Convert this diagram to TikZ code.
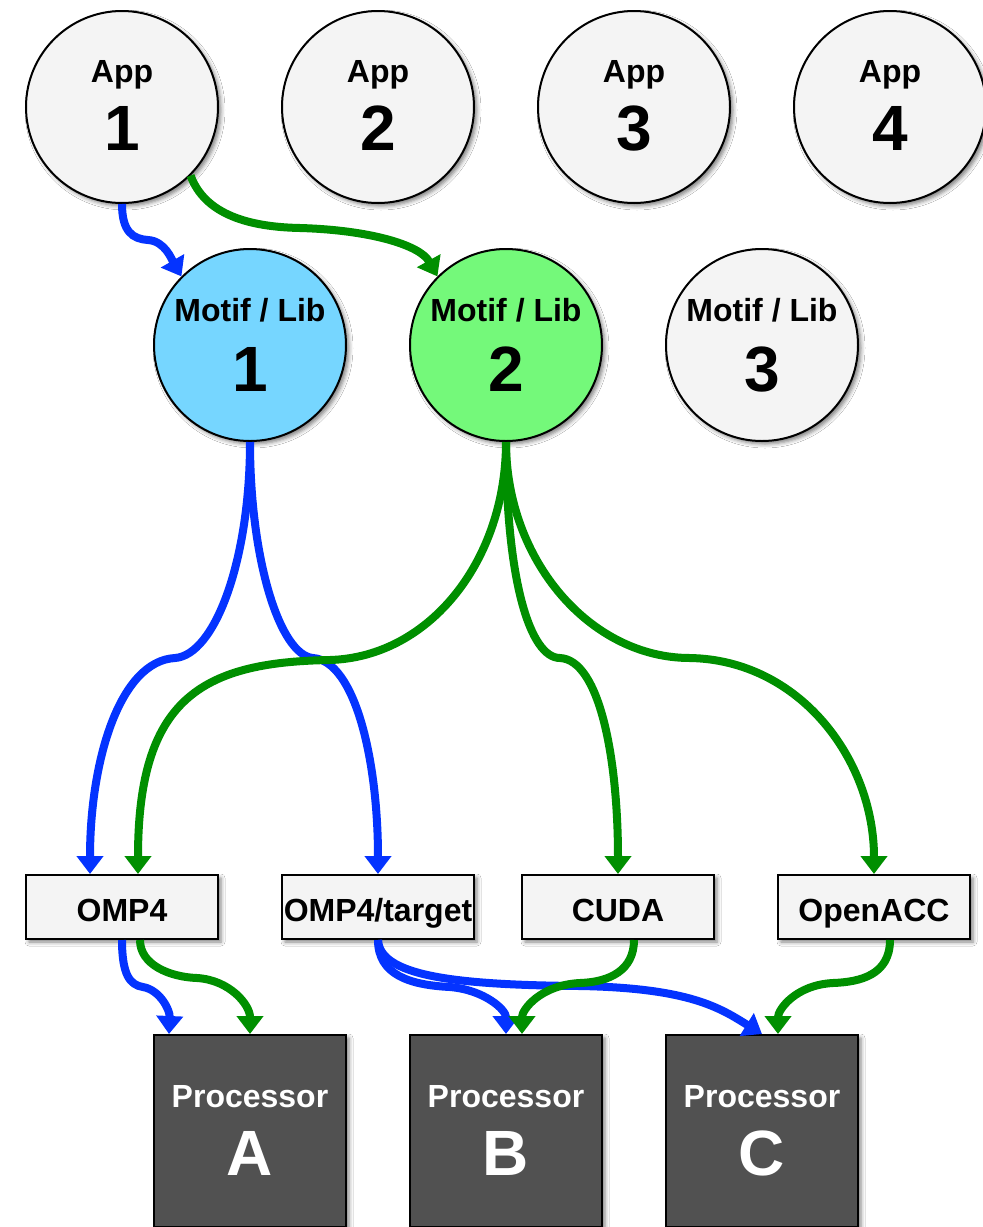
\documentclass[tikz,border=0pt]{standalone}
\usepackage{fontspec}
\setmainfont{Liberation Sans}
\usetikzlibrary{arrows.meta,shadows.blur,calc}
\definecolor{shapefill}{HTML}{F4F4F4}
\definecolor{skyfill}{HTML}{76D6FF}
\definecolor{florafill}{HTML}{74F97A}
\definecolor{procfill}{HTML}{515151}
\definecolor{linkblue}{HTML}{0433FF}
\definecolor{linkgreen}{HTML}{008F00}

\begin{document}
\begin{tikzpicture}[x=1pt,y=-1pt,
  softshadow/.style={blur shadow={shadow xshift=3pt,shadow yshift=-3pt,shadow blur radius=4pt,shadow opacity=50}},
  ring/.style={circle,draw=black,line width=2pt,minimum size=192pt,inner sep=0pt,fill=shapefill,softshadow},
  tag/.style={rectangle,draw=black,line width=2pt,minimum width=192pt,minimum height=64pt,inner sep=0pt,fill=shapefill,softshadow},
  chip/.style={rectangle,draw=black,line width=2pt,minimum width=192pt,minimum height=192pt,inner sep=0pt,fill=procfill,softshadow},
  capt/.style={font=\fontsize{32}{36}\selectfont\bfseries,anchor=base,inner sep=0pt},
  bignum/.style={font=\fontsize{64}{70}\selectfont\bfseries,anchor=base,inner sep=0pt},
  blueflow/.style={draw=linkblue,line width=8pt,-{Triangle[width=26pt,length=18pt]}},
  greenflow/.style={draw=linkgreen,line width=8pt,-{Triangle[width=26pt,length=18pt]}},
]
\fill[white] (0,0) rectangle (983,1227);
\useasboundingbox (0,0) rectangle (983,1227);

% applications
\foreach \i/\x in {1/122,2/378,3/634,4/890} {
  \node[ring] (app\i) at (\x,107) {};
  \node[capt] (app\i-word) at (\x,82) {App};
  \node[bignum] (app\i-num) at (\x,150) {\i};
}

% motifs / libraries
\foreach \i/\x/\c in {1/250/skyfill,2/506/florafill,3/762/shapefill} {
  \node[ring,fill=\c] (m\i) at (\x,345) {};
  \node[capt] (m\i-word) at (\x,321) {Motif / Lib};
  \node[bignum] (m\i-num) at (\x,391) {\i};
}

% programming models
\node[tag] (omp4) at (122,907) {};
\node[capt] (omp4-word) at (122,921) {OMP4};
\node[tag] (ompt) at (378,907) {};
\node[capt] (ompt-word) at (378,921) {OMP4/target};
\node[tag] (cuda) at (618,907) {};
\node[capt] (cuda-word) at (618,921) {CUDA};
\node[tag] (oacc) at (874,907) {};
\node[capt] (oacc-word) at (874,921) {OpenACC};

% processors
\foreach \i/\n/\x in {a/A/250,b/B/506,c/C/762} {
  \node[chip] (p\i) at (\x,1131) {};
  \node[capt,text=white] (p\i-word) at (\x,1107) {Processor};
  \node[bignum,text=white] (p\i-num) at (\x,1175) {\n};
}

% app 1 to motifs
\draw[blueflow] (app1.south) .. controls (122,232) and (133,239) .. (148,240)
  .. controls (165,241) and (172,260) .. (m1.135);
\draw[greenflow] (app1.-45) .. controls (205,215) and (250,227) .. (300,228)
  .. controls (370,230) and (420,245) .. (m2.135);

% motifs to programming models
\draw[blueflow] (m1.south) .. controls (250,560) and (215,655) .. (175,658)
  .. controls (120,661) and (90,760) .. ($(omp4.north)+(-32,0)$);
\draw[blueflow] (m1.south) .. controls (250,560) and (280,655) .. (313,658)
  .. controls (355,661) and (378,760) .. (ompt.north);
\draw[greenflow] (m2.south) .. controls (506,560) and (430,657) .. (330,660)
  .. controls (200,662) and (138,700) .. ($(omp4.north)+(16,0)$);
\draw[greenflow] (m2.south) .. controls (506,580) and (530,658) .. (560,658)
  .. controls (600,660) and (618,760) .. (cuda.north);
\draw[greenflow] (m2.south) .. controls (506,560) and (590,658) .. (690,658)
  .. controls (800,660) and (874,760) .. (oacc.north);

% programming models to processors
\draw[blueflow] (omp4.south) .. controls (122,975) and (130,985) .. (143,987)
  .. controls (160,990) and (170,1010) .. ($(pa.north west)+(16,0)$);
\draw[greenflow] ($(omp4.south)+(18,0)$) .. controls (140,965) and (170,977) .. (197,978)
  .. controls (230,980) and (250,1005) .. (pa.north);
\draw[blueflow] (ompt.south) .. controls (378,975) and (410,985) .. (450,987)
  .. controls (485,990) and (506,1010) .. (pb.north);
\draw[blueflow] (ompt.south) .. controls (380,975) and (450,985) .. (580,986)
  .. controls (690,988) and (720,1008) .. (pc.north);
\draw[greenflow] ($(cuda.south)+(16,0)$) .. controls (634,970) and (610,982) .. (580,983)
  .. controls (540,985) and (522,1010) .. ($(pb.north)+(16,0)$);
\draw[greenflow] ($(oacc.south)+(16,0)$) .. controls (890,975) and (860,982) .. (833,983)
  .. controls (795,985) and (778,1010) .. ($(pc.north)+(16,0)$);
\end{tikzpicture}
\end{document}
